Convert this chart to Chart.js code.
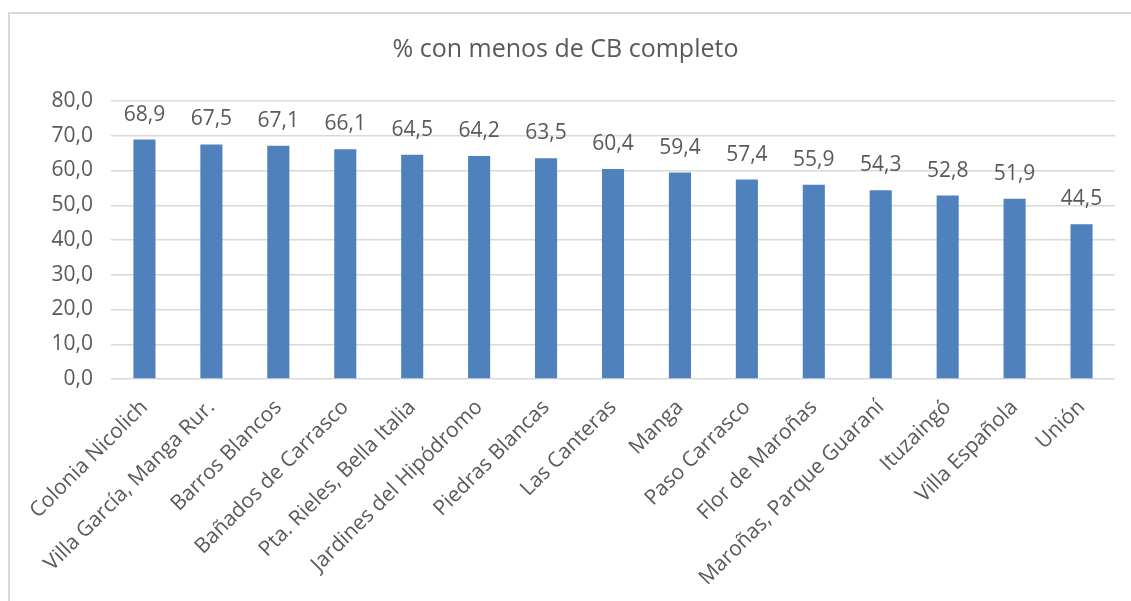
<!DOCTYPE html>
<html>
<head>
<meta charset="utf-8">
<script src="https://cdn.jsdelivr.net/npm/chart.js@4/dist/chart.umd.min.js"></script>
<style>
  html, body { margin: 0; padding: 0; background: #fff; }
  #wrap { position: relative; width: 1131px; height: 601px; overflow: hidden; }
  #frame { position: absolute; left: 8px; top: 12px; width: 1200px; height: 700px;
           border: 2px solid #d9d9d9; box-sizing: border-box; }
  canvas { position: absolute; left: 0; top: 0; }
</style>
</head>
<body>
<div id="wrap">
  <div id="frame"></div>
  <canvas id="chart" width="1131" height="601"></canvas>
</div>
<script>
// ── Data ──
const barrios = [
  "Colonia Nicolich", "Villa García, Manga Rur.", "Barros Blancos", "Bañados de Carrasco",
  "Pta. Rieles, Bella Italia", "Jardines del Hipódromo", "Piedras Blancas", "Las Canteras",
  "Manga", "Paso Carrasco", "Flor de Maroñas", "Maroñas, Parque Guaraní",
  "Ituzaingó", "Villa Española", "Unión"
];
const pctMenosCB = [68.9, 67.5, 67.1, 66.1, 64.5, 64.2, 63.5, 60.4, 59.4, 57.4, 55.9, 54.3, 52.8, 51.9, 44.5];
const yTicks = [0, 10, 20, 30, 40, 50, 60, 70, 80];

const FONT = "'Open Sans', sans-serif";
const GRAY = "#595959";

// ── Helpers ──
function fmt(n) {
  return n.toFixed(1).replace(".", ",");
}

// data labels above each bar
const barLabels = {
  id: "barLabels",
  afterDatasetsDraw(chart) {
    const ctx = chart.ctx;
    const meta = chart.getDatasetMeta(0);
    ctx.save();
    ctx.font = "21px " + FONT;
    ctx.fillStyle = GRAY;
    ctx.textAlign = "center";
    ctx.textBaseline = "middle";
    meta.data.forEach((bar, i) => {
      ctx.fillText(fmt(pctMenosCB[i]), bar.x, bar.y - 25);
    });
    ctx.restore();
  }
};

new Chart(document.getElementById("chart"), {
  type: "bar",
  data: {
    labels: barrios,
    datasets: [{
      data: pctMenosCB,
      backgroundColor: "#4f81bd",
      borderWidth: 0,
      categoryPercentage: 1,
      barPercentage: 0.33
    }]
  },
  options: {
    responsive: false,
    animation: false,
    layout: { padding: { left: 16, right: 16, top: 35, bottom: 0 } },
    plugins: {
      legend: { display: false },
      tooltip: { enabled: false },
      title: {
        display: true,
        text: "% con menos de CB completo",
        color: GRAY,
        font: { size: 25, family: FONT, weight: "normal" },
        padding: { top: 0, bottom: 36 }
      }
    },
    scales: {
      x: {
        grid: { display: false },
        border: { display: false },
        afterFit: axis => { axis.height = 222; },
        ticks: {
          color: GRAY,
          font: { size: 21, family: FONT },
          minRotation: 45,
          maxRotation: 45,
          autoSkip: false,
          padding: 8
        }
      },
      y: {
        min: 0,
        max: 80,
        afterBuildTicks: axis => { axis.ticks = yTicks.map(v => ({ value: v })); },
        afterFit: axis => { axis.width = 95; },
        grid: { color: "#d9d9d9", lineWidth: 1.5, drawTicks: false },
        border: { display: false },
        ticks: {
          color: GRAY,
          font: { size: 21, family: FONT },
          padding: 18,
          callback: v => fmt(v)
        }
      }
    }
  },
  plugins: [barLabels]
});
</script>
</body>
</html>
